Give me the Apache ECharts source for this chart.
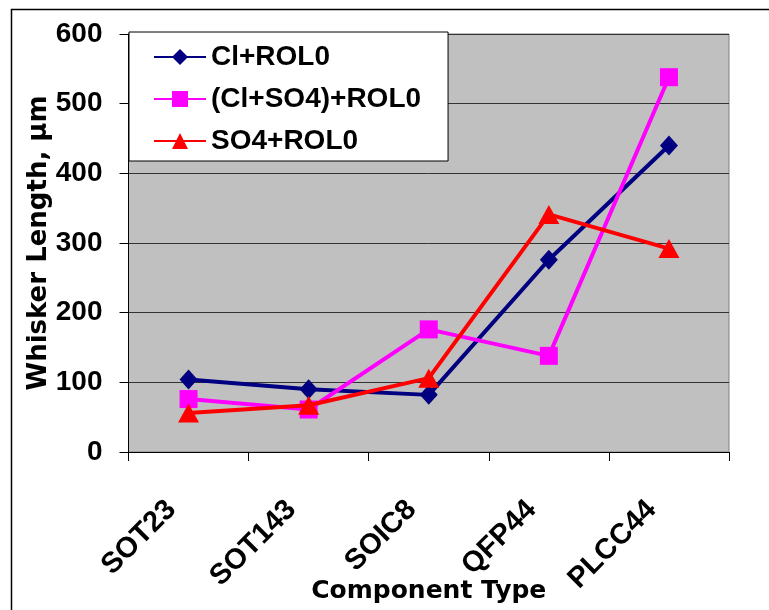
<!DOCTYPE html>
<html>
<head>
<meta charset="utf-8">
<script src="https://cdn.jsdelivr.net/npm/echarts@6/dist/echarts.min.js"></script>
<style>
  html, body { margin: 0; padding: 0; background: #fff; }
  #chart { width: 769px; height: 610px; }
</style>
</head>
<body>
<div id="chart"></div>
<script>
// Component package types along the x axis
const categories = ['SOT23', 'SOT143', 'SOIC8', 'QFP44', 'PLCC44'];

// Whisker length (µm) per contamination condition
const clRol0 = [104, 90, 82, 276, 440];
const clSo4Rol0 = [76, 61, 176, 138, 538];
const so4Rol0 = [56, 67, 106, 341, 292];

const seriesNames = ['Cl+ROL0', '(Cl+SO4)+ROL0', 'SO4+ROL0'];

// Value axis ticks
const yMin = 0;
const yMax = 600;
const yStep = 100;

const ARIAL = '"Liberation Sans", Arial, sans-serif';
const WIDE = '"DejaVu Sans", sans-serif';

const chart = echarts.init(document.getElementById('chart'), null, { renderer: 'canvas' });

chart.setOption({
  animation: false,
  backgroundColor: '#ffffff',
  graphic: [
    {
      type: 'rect',
      left: 9, top: 7,
      shape: { width: 820, height: 720 },
      style: { fill: 'none', stroke: '#000', lineWidth: 1.5 },
      z: -10
    }
  ],
  grid: {
    left: 128.5, right: 40, top: 34, bottom: 158,
    outerBoundsMode: 'none',
    containLabel: false,
    show: true,
    backgroundColor: '#C0C0C0',
    borderColor: '#808080',
    borderWidth: 1
  },
  legend: {
    orient: 'vertical',
    left: 129, top: 32,
    backgroundColor: '#ffffff',
    borderColor: '#000000',
    borderWidth: 1,
    borderRadius: 0,
    padding: [11, 27, 6, 24],
    itemWidth: 52,
    itemHeight: 20,
    itemGap: 14,
    textStyle: {
      fontFamily: ARIAL, fontWeight: 'bold', fontSize: 28, color: '#000',
      lineHeight: 28
    },
    data: seriesNames
  },
  xAxis: {
    type: 'category',
    data: categories,
    boundaryGap: true,
    name: 'Component Type',
    nameLocation: 'middle',
    nameGap: 127,
    nameMoveOverlap: false,
    nameTextStyle: { fontFamily: WIDE, fontWeight: 'bold', fontSize: 25, color: '#000' },
    axisLine: { lineStyle: { color: '#000', width: 1 } },
    axisTick: { show: true, length: 9, lineStyle: { color: '#000', width: 1 } },
    axisLabel: {
      rotate: 45, interval: 0, margin: 36,
      // trailing spaces pull each slanted label down-left of its tick
      formatter: (v) => v + '   ',
      fontFamily: ARIAL, fontWeight: 'bold', fontSize: 29, color: '#000'
    },
    splitLine: { show: false }
  },
  yAxis: {
    type: 'value',
    min: yMin, max: yMax, interval: yStep,
    name: 'Whisker Length, µm',
    nameLocation: 'middle',
    nameGap: 76,
    nameMoveOverlap: false,
    nameTextStyle: { fontFamily: WIDE, fontWeight: 'bold', fontSize: 26, color: '#000' },
    axisLine: { show: true, lineStyle: { color: '#000', width: 1 } },
    axisTick: { show: true, length: 9, lineStyle: { color: '#000', width: 1 } },
    axisLabel: {
      margin: 26,
      fontFamily: ARIAL, fontWeight: 'bold', fontSize: 28, color: '#000'
    },
    splitLine: { show: true, lineStyle: { color: '#333333', width: 1 } }
  },
  series: [
    {
      name: seriesNames[0], type: 'line', data: clRol0,
      symbol: 'diamond', symbolSize: [18, 20],
      lineStyle: { color: '#000080', width: 4 },
      itemStyle: { color: '#000080' },
      z: 2
    },
    {
      name: seriesNames[1], type: 'line', data: clSo4Rol0,
      symbol: 'rect', symbolSize: 18,
      lineStyle: { color: '#FF00FF', width: 4 },
      itemStyle: { color: '#FF00FF' },
      z: 3
    },
    {
      name: seriesNames[2], type: 'line', data: so4Rol0,
      symbol: 'triangle', symbolSize: [21, 19],
      lineStyle: { color: '#FF0000', width: 4 },
      itemStyle: { color: '#FF0000' },
      z: 4
    }
  ]
});
</script>
</body>
</html>
